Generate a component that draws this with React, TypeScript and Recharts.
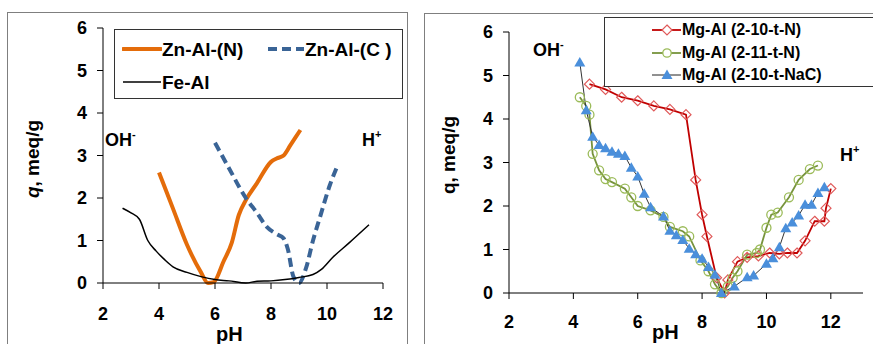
import React from 'react';
import { LineChart, Line, XAxis, YAxis } from 'recharts';

// left panel: Zn-Al and Fe-Al titration curves
const znAlN = [
  [4.0, 2.6], [4.5, 1.75], [5.0, 0.9], [5.5, 0.25], [5.75, 0.0], [5.95, 0.02], [6.3, 0.5], [6.6, 0.95],
  [6.85, 1.6], [7.1, 1.95], [7.5, 2.35], [8.0, 2.85], [8.2, 2.93], [8.45, 3.0], [8.7, 3.25], [9.05, 3.6],
];
const znAlC = [
  [6.0, 3.3], [6.5, 2.7], [7.1, 2.0], [7.5, 1.65], [7.85, 1.32], [8.2, 1.15], [8.45, 1.05], [8.6, 0.8],
  [8.8, 0.15], [9.0, 0.0], [9.25, 0.35], [9.5, 1.0], [9.75, 1.55], [10.1, 2.3], [10.4, 2.8],
];
const feAl = [
  [2.7, 1.76], [3.0, 1.65], [3.3, 1.5], [3.6, 1.0], [3.9, 0.75], [4.2, 0.55], [4.5, 0.38], [5.0, 0.25],
  [5.5, 0.15], [6.0, 0.08], [6.5, 0.05], [7.1, 0.0], [7.5, 0.04], [8.0, 0.05], [8.5, 0.08], [9.0, 0.13],
  [9.5, 0.2], [9.8, 0.32], [10.2, 0.6], [10.8, 0.95], [11.5, 1.37],
];

// right panel: Mg-Al samples
const mgAl210N = [
  [4.5, 4.8], [5.0, 4.68], [5.5, 4.5], [6.0, 4.42], [6.5, 4.3], [7.0, 4.22], [7.5, 4.1], [7.8, 2.6],
  [8.0, 1.8], [8.15, 1.3], [8.45, 0.35], [8.7, 0.0], [8.8, 0.3], [9.1, 0.72], [9.4, 0.82], [9.75, 0.85],
  [10.1, 0.92], [10.4, 0.9], [10.65, 0.92], [10.95, 0.92], [11.2, 1.2], [11.5, 1.65], [11.8, 1.65],
  [11.85, 1.95], [12.0, 2.4],
];
const mgAl211N = [
  [4.2, 4.5], [4.4, 4.3], [4.5, 4.1], [4.6, 3.2], [4.8, 2.82], [5.0, 2.62], [5.2, 2.55], [5.6, 2.4],
  [5.8, 2.2], [6.0, 2.0], [6.4, 1.9], [6.8, 1.75], [7.0, 1.52], [7.4, 1.42], [7.6, 1.3], [7.95, 0.75],
  [8.2, 0.5], [8.4, 0.2], [8.6, 0.0], [8.8, 0.15], [8.95, 0.35], [9.1, 0.5], [9.4, 0.88], [9.7, 0.92],
  [9.8, 1.0], [10.0, 1.5], [10.15, 1.8], [10.35, 1.85], [10.7, 2.2], [11.0, 2.6], [11.35, 2.85], [11.6, 2.93],
];
const mgAl210NaC = [
  [4.2, 5.3], [4.4, 4.2], [4.6, 3.59], [4.8, 3.4], [5.0, 3.33], [5.2, 3.25], [5.4, 3.2], [5.6, 3.15],
  [5.8, 2.88], [6.0, 2.68], [6.2, 2.28], [6.4, 1.97], [6.8, 1.76], [7.0, 1.43], [7.2, 1.33], [7.4, 1.22],
  [7.6, 1.02], [7.8, 0.89], [8.0, 0.79], [8.2, 0.6], [8.4, 0.42], [8.6, 0.0], [9.0, 0.15], [9.4, 0.36],
  [9.6, 0.4], [10.0, 0.67], [10.2, 0.8], [10.4, 1.05], [10.6, 1.49], [10.8, 1.62], [11.0, 1.78],
  [11.2, 2.03], [11.4, 2.03], [11.6, 2.3], [11.8, 2.43],
];

const xTicks = [2, 4, 6, 8, 10, 12];
const yTicks = [0, 1, 2, 3, 4, 5, 6];

const toRows = (pts: number[][]) => pts.map(([x, y]) => ({ x, y }));

const FONT = '"Liberation Sans", Arial, sans-serif';
const tickStyle = { fontSize: 18, fontWeight: 700, fill: '#000', fontFamily: FONT };

const RED = '#c00000';
const RED_MK = '#e05a5a';
const GREEN = '#77933c';
const GREEN_MK = '#9bbb59';
const TRI = '#4a8fdb';

const Diamond = (p: any) => {
  const { cx, cy, index } = p;
  if (cx == null || cy == null) return <g key={index} />;
  return (
    <path key={index} d={`M${cx},${cy - 5}L${cx + 5},${cy}L${cx},${cy + 5}L${cx - 5},${cy}Z`}
      fill="none" stroke={RED_MK} strokeWidth={1.2} />
  );
};
const Ring = (p: any) => {
  const { cx, cy, index } = p;
  if (cx == null || cy == null) return <g key={index} />;
  return <circle key={index} cx={cx} cy={cy} r={4.5} fill="none" stroke={GREEN_MK} strokeWidth={1.3} />;
};
const Tri = (p: any) => {
  const { cx, cy, index } = p;
  if (cx == null || cy == null) return <g key={index} />;
  return <path key={index} d={`M${cx},${cy - 5.5}L${cx + 5.5},${cy + 4}L${cx - 5.5},${cy + 4}Z`} fill={TRI} />;
};

const txt: React.CSSProperties = { position: 'absolute', fontFamily: FONT, fontWeight: 700, color: '#000', whiteSpace: 'nowrap', lineHeight: 1 };
const sup: React.CSSProperties = { fontSize: 11, position: 'relative', top: -8 };

const App: React.FC = () => {
  return (
    <div style={{ position: 'absolute', left: 0, top: 0, width: 873, height: 344, overflow: 'hidden', background: '#fff' }}>
      {/* panel frames */}
      <div style={{ position: 'absolute', left: 7, top: 12, width: 399, height: 360, border: '1.5px solid #7f7f7f' }} />
      <div style={{ position: 'absolute', left: 424, top: 13, width: 480, height: 360, border: '1.5px solid #7f7f7f' }} />

      <div style={{ position: 'absolute', left: 0, top: 0 }}>
        <LineChart width={420} height={344} margin={{ top: 28, right: 37, left: 43, bottom: 31 }} style={{ fontFamily: FONT }}>
          <XAxis type="number" dataKey="x" domain={[2, 12]} ticks={xTicks} interval={0} height={30}
            tick={tickStyle} tickSize={6} tickMargin={18} stroke="#000" allowDataOverflow />
          <YAxis type="number" domain={[0, 6]} ticks={yTicks} interval={0} width={60}
            tick={tickStyle} tickSize={6} tickMargin={10} stroke="#000" />
          <Line data={toRows(znAlN)} dataKey="y" type="monotone" stroke="#e46c0a" strokeWidth={4} dot={false} isAnimationActive={false} />
          <Line data={toRows(znAlC)} dataKey="y" type="monotone" stroke="#3a6496" strokeWidth={4} strokeDasharray="9 5" dot={false} isAnimationActive={false} />
          <Line data={toRows(feAl)} dataKey="y" type="monotone" stroke="#000" strokeWidth={1.5} dot={false} isAnimationActive={false} />
        </LineChart>
      </div>

      <div style={{ position: 'absolute', left: 430, top: 0 }}>
        <LineChart width={443} height={344} margin={{ top: 32, right: 10, left: 19, bottom: 21 }} style={{ fontFamily: FONT }}>
          <XAxis type="number" dataKey="x" domain={[2, 13]} ticks={xTicks} interval={0} height={30}
            tick={tickStyle} tickSize={6} tickMargin={16} stroke="#000" allowDataOverflow />
          <YAxis type="number" domain={[0, 6]} ticks={yTicks} interval={0} width={60}
            tick={tickStyle} tickSize={6} tickMargin={10} stroke="#000" />
          <Line data={toRows(mgAl210N)} dataKey="y" type="linear" stroke={RED} strokeWidth={1.8} dot={Diamond} isAnimationActive={false} />
          <Line data={toRows(mgAl211N)} dataKey="y" type="linear" stroke={GREEN} strokeWidth={1.8} dot={Ring} isAnimationActive={false} />
          <Line data={toRows(mgAl210NaC)} dataKey="y" type="linear" stroke="#333" strokeWidth={1} dot={Tri} isAnimationActive={false} />
        </LineChart>
      </div>

      {/* axis titles */}
      <div style={{ ...txt, fontSize: 19, left: 32, top: 159, transform: 'translate(-50%, -50%) rotate(-90deg)' }}>
        <i>q</i>, meq/g
      </div>
      <div style={{ ...txt, fontSize: 19, left: 448, top: 155, transform: 'translate(-50%, -50%) rotate(-90deg)' }}>
        q, meq/g
      </div>
      <div style={{ ...txt, fontSize: 20, left: 216, top: 324 }}>pH</div>
      <div style={{ ...txt, fontSize: 20, left: 652, top: 322 }}>pH</div>

      {/* annotations */}
      <div style={{ ...txt, fontSize: 18, left: 105, top: 131 }}>OH<span style={sup}>-</span></div>
      <div style={{ ...txt, fontSize: 18, left: 362, top: 131 }}>H<span style={sup}>+</span></div>
      <div style={{ ...txt, fontSize: 18, left: 533, top: 41 }}>OH<span style={sup}>-</span></div>
      <div style={{ ...txt, fontSize: 18, left: 840, top: 146 }}>H<span style={sup}>+</span></div>

      {/* left legend */}
      <div style={{ position: 'absolute', left: 114, top: 29, width: 287, height: 68, border: '1px solid #333', background: '#fff' }}>
        <svg style={{ position: 'absolute', left: 7, top: 16 }} width={40} height={6}>
          <line x1={1} y1={3} x2={39} y2={3} stroke="#e46c0a" strokeWidth={4} strokeLinecap="round" />
        </svg>
        <div style={{ ...txt, fontSize: 19, left: 47, top: 10 }}>Zn-Al-(N)</div>
        <svg style={{ position: 'absolute', left: 151, top: 16 }} width={40} height={6}>
          <line x1={2} y1={3} x2={38} y2={3} stroke="#3a6496" strokeWidth={4} strokeDasharray="9 5" />
        </svg>
        <div style={{ ...txt, fontSize: 19, left: 190, top: 10 }}>Zn-Al-(C )</div>
        <svg style={{ position: 'absolute', left: 7, top: 50 }} width={40} height={4}>
          <line x1={1} y1={2} x2={39} y2={2} stroke="#000" strokeWidth={1.5} />
        </svg>
        <div style={{ ...txt, fontSize: 19, left: 47, top: 43 }}>Fe-Al</div>
      </div>

      {/* right legend */}
      <div style={{ position: 'absolute', left: 604, top: 17, width: 300, height: 68, border: '1px solid #333', background: '#fff' }}>
        {[
          { label: 'Mg-Al (2-10-t-N)', color: RED, mk: 'd', y: 12 },
          { label: 'Mg-Al (2-11-t-N)', color: GREEN, mk: 'c', y: 35 },
          { label: 'Mg-Al (2-10-t-NaC)', color: '#222', mk: 't', y: 57 },
        ].map((r) => (
          <React.Fragment key={r.label}>
            <svg style={{ position: 'absolute', left: 47, top: r.y - 7 }} width={30} height={14}>
              <line x1={0} y1={7} x2={29} y2={7} stroke={r.color} strokeWidth={r.mk === 't' ? 1 : 1.8} />
              {r.mk === 'd' && <path d="M15,2L20,7L15,12L10,7Z" fill="#fff" stroke={RED_MK} strokeWidth={1.2} />}
              {r.mk === 'c' && <circle cx={15} cy={7} r={4.2} fill="#fff" stroke={GREEN_MK} strokeWidth={1.3} />}
              {r.mk === 't' && <path d="M15,1.5L20.5,11L9.5,11Z" fill={TRI} />}
            </svg>
            <div style={{ ...txt, fontSize: 16, left: 77, top: r.y - 8 }}>{r.label}</div>
          </React.Fragment>
        ))}
      </div>
    </div>
  );
};

export default App;
